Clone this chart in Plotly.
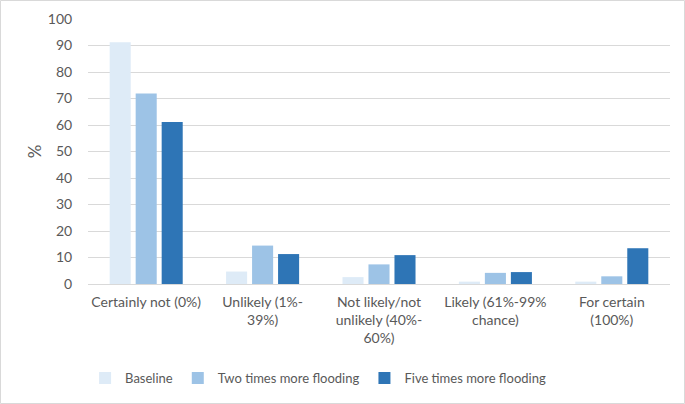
import plotly.graph_objects as go

categories = ["Certainly not (0%)", "Unlikely (1%-<br>39%)", "Not likely/not<br>unlikely (40%-<br>60%)",
              "Likely (61%-99%<br>chance)", "For certain<br>(100%)"]
baseline = [91.2, 4.7, 2.6, 0.9, 0.9]
two_times = [71.9, 14.5, 7.4, 4.2, 2.9]
five_times = [61.1, 11.3, 10.9, 4.5, 13.5]
series_names = ["Baseline", "Two times more flooding", "Five times more flooding"]
colors = ["#DEEBF7", "#9DC3E6", "#2E75B6"]
y_ticks = [0, 10, 20, 30, 40, 50, 60, 70, 80, 90, 100]

W, H = 685, 404
ml, mr, mt, mb = 88, 15, 19, 120

fig = go.Figure()
for name, vals, c in zip(series_names, [baseline, two_times, five_times], colors):
    fig.add_trace(go.Bar(x=categories, y=vals, name=name, marker=dict(color=c, line=dict(width=0))))

fig.update_layout(
    width=W, height=H,
    margin=dict(l=ml, r=mr, t=mt, b=mb, autoexpand=False),
    paper_bgcolor="white", plot_bgcolor="white",
    font=dict(family="Lato, Open Sans, sans-serif", size=13, color="#595959"),
    barmode="group", bargap=0.33, bargroupgap=0.19,
    legend=dict(orientation="h", x=-0.005, xanchor="left", y=-0.355, yanchor="middle",
                font=dict(size=13, color="#595959"), itemwidth=30, traceorder="normal"),
    xaxis=dict(showgrid=False, showline=True, linecolor="#D9D9D9", linewidth=1,
               ticks="outside", ticklen=5, tickcolor="rgba(0,0,0,0)",
               tickfont=dict(size=14, color="#595959"), automargin=False),
    yaxis=dict(range=[0, 100], tickvals=y_ticks, showgrid=True, gridcolor="#D9D9D9",
               gridwidth=1, zeroline=False, showline=False,
               ticks="outside", ticklen=12, tickcolor="rgba(0,0,0,0)", automargin=False,
               tickfont=dict(size=14, color="#595959"),
               title=dict(text="%", font=dict(size=17, color="#595959"), standoff=1)),
)

pw = W - ml - mr
ph = H - mt - mb
fig.add_shape(type="rect", xref="paper", yref="paper",
              x0=(-ml + 0.5) / pw, x1=(pw + mr - 0.5) / pw,
              y0=(-mb + 0.5) / ph, y1=(ph + mt - 0.5) / ph,
              line=dict(color="#D9D9D9", width=1), layer="below")

fig.write_html("out.html", config={"displayModeBar": False},
               post_script="document.body.style.margin='0';")
